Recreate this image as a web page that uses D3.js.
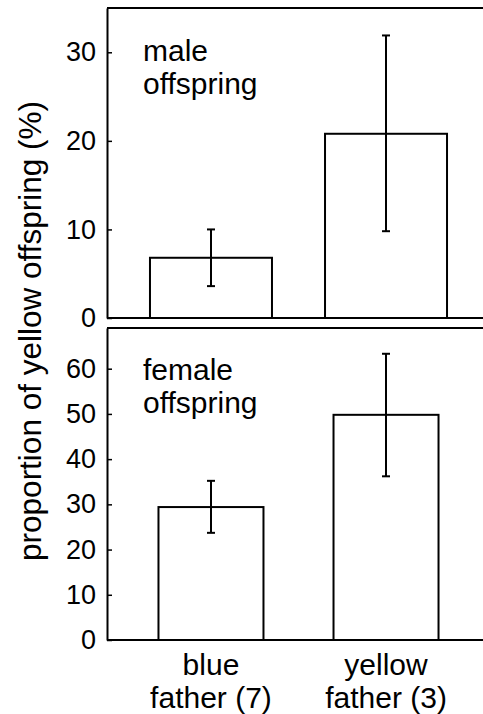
<!DOCTYPE html>
<html>
<head>
<meta charset="utf-8">
<script src="https://cdn.jsdelivr.net/npm/d3@7"></script>
<style>
  body { margin: 0; background: #fff; }
  text { font-family: "Liberation Sans", Arial, sans-serif; fill: #000; }
</style>
</head>
<body>
<svg width="483" height="714"></svg>
<script>
// data
const fathers = ["blue", "yellow"];
const fatherLabels = [["blue", "father (7)"], ["yellow", "father (3)"]];

const maleMean = [6.8, 20.8];
const maleLow = [3.6, 9.8];
const maleHigh = [10.0, 31.9];
const maleTicks = [0, 10, 20, 30];

const femaleMean = [29.4, 49.8];
const femaleLow = [23.7, 36.2];
const femaleHigh = [35.2, 63.3];
const femaleTicks = [0, 10, 20, 30, 40, 50, 60];

let svg = d3.select("svg");
let width = 483;
let left = 107;

let x = d3.scalePoint().domain(fathers).range([left, 490]).padding(0.594);

// one panel = frame, axis, bars, error bars, label
function drawPanel(opts) {
  let y = d3.scaleLinear().domain(opts.domain).range([opts.bottom, opts.top]);
  let g = svg.append("g");

  let rows = fathers.map((f, i) => ({
    father: f,
    mean: opts.mean[i],
    low: opts.low[i],
    high: opts.high[i]
  }));

  g.selectAll("rect.bar")
    .data(rows)
    .enter()
    .append("rect")
    .attr("class", "bar")
    .attr("x", d => x(d.father) - opts.barWidth / 2)
    .attr("y", d => y(d.mean))
    .attr("width", opts.barWidth)
    .attr("height", d => y(0) - y(d.mean))
    .attr("fill", "#fff")
    .attr("stroke", "#000")
    .attr("stroke-width", 2);

  let err = g.selectAll("g.err").data(rows).enter().append("g").attr("class", "err");
  err.append("line")
    .attr("x1", d => x(d.father))
    .attr("x2", d => x(d.father))
    .attr("y1", d => y(d.low))
    .attr("y2", d => y(d.high));
  err.append("line")
    .attr("x1", d => x(d.father) - 4)
    .attr("x2", d => x(d.father) + 4)
    .attr("y1", d => y(d.high))
    .attr("y2", d => y(d.high));
  err.append("line")
    .attr("x1", d => x(d.father) - 4)
    .attr("x2", d => x(d.father) + 4)
    .attr("y1", d => y(d.low))
    .attr("y2", d => y(d.low));
  err.selectAll("line").attr("stroke", "#000").attr("stroke-width", 2);

  // top border and zero line
  g.append("line")
    .attr("x1", left).attr("x2", width)
    .attr("y1", y.range()[1]).attr("y2", y.range()[1])
    .attr("stroke", "#000").attr("stroke-width", 2);
  g.append("line")
    .attr("x1", left).attr("x2", width)
    .attr("y1", y(0)).attr("y2", y(0))
    .attr("stroke", "#000").attr("stroke-width", 2);

  let axis = g.append("g")
    .attr("transform", "translate(" + left + ",0)")
    .call(d3.axisLeft(y).tickValues(opts.ticks).tickSize(-5).tickSizeOuter(0).tickPadding(11));
  axis.select(".domain").attr("stroke-width", 2);
  axis.selectAll(".tick line").attr("stroke-width", 1.5);
  axis.selectAll(".tick text")
    .style("font-size", "27px")
    .attr("font-family", null)
    .attr("fill", "#000");

  let lab = g.append("text")
    .attr("x", 143)
    .attr("y", opts.labelY)
    .style("font-size", "30px");
  opts.label.forEach((t, i) => {
    lab.append("tspan").attr("x", 143).attr("dy", i == 0 ? 0 : 33).text(t);
  });
}

drawPanel({
  domain: [0, 35], top: 8, bottom: 318, barWidth: 122,
  mean: maleMean, low: maleLow, high: maleHigh, ticks: maleTicks,
  label: ["male", "offspring"], labelY: 61
});

drawPanel({
  domain: [0, 69], top: 328, bottom: 640, barWidth: 105,
  mean: femaleMean, low: femaleLow, high: femaleHigh, ticks: femaleTicks,
  label: ["female", "offspring"], labelY: 380
});

// category labels under the bottom panel
let catLab = svg.selectAll("text.cat")
  .data(fatherLabels)
  .enter()
  .append("text")
  .attr("class", "cat")
  .attr("text-anchor", "middle")
  .attr("y", 675)
  .style("font-size", "30px");
catLab.each(function(d, i) {
  d.forEach((t, j) => {
    d3.select(this).append("tspan")
      .attr("x", x(fathers[i]))
      .attr("dy", j == 0 ? 0 : 33)
      .text(t);
  });
});

svg.append("text")
  .attr("transform", "translate(41,331) rotate(-90)")
  .attr("text-anchor", "middle")
  .style("font-size", "31.5px")
  .text("proportion of yellow offspring (%)");
</script>
</body>
</html>
